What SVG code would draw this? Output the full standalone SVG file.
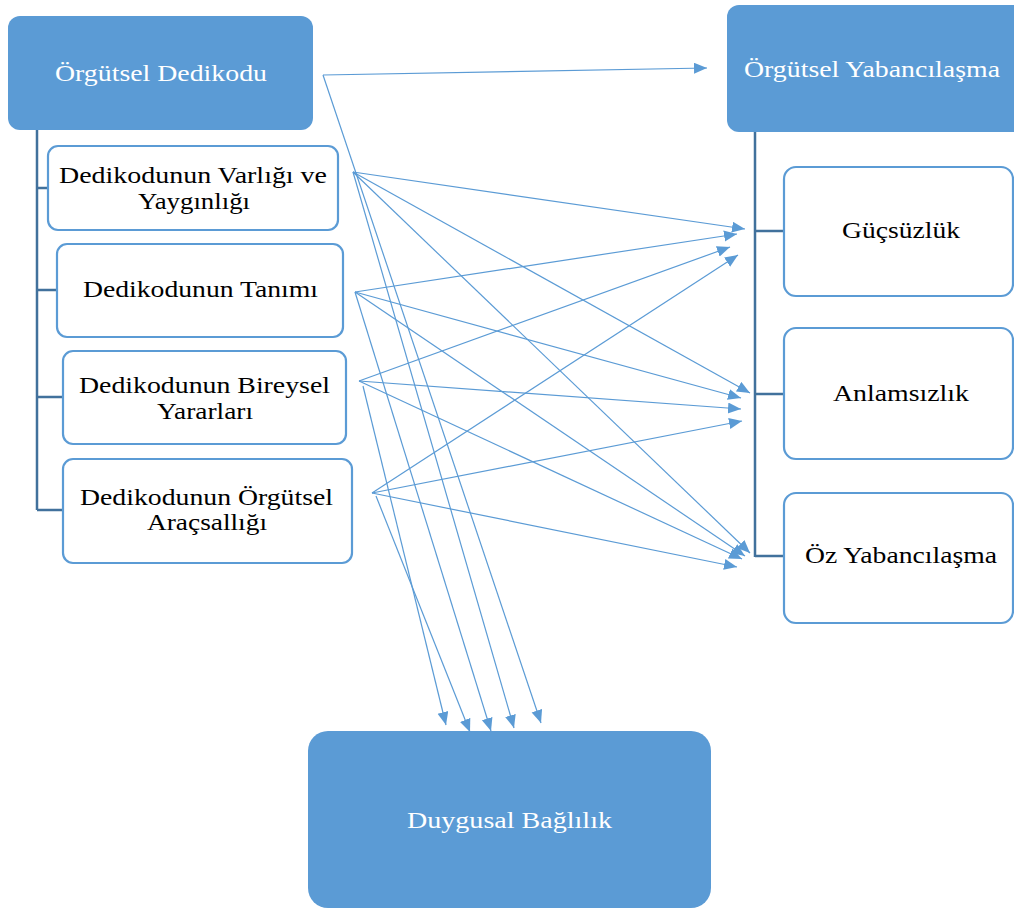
<svg xmlns="http://www.w3.org/2000/svg" width="1014" height="910" viewBox="0 0 1014 910">
<style>
.big{fill:#5B9BD5;stroke:none}
.child{fill:#FFFFFF;stroke:#5B9BD5;stroke-width:2.2}
.trunk{fill:none;stroke:#41719C;stroke-width:2.5}
.conn{fill:none;stroke:#5B9BD5;stroke-width:1.2}
.wt{font-family:"Liberation Serif","Times New Roman",serif;font-size:23px;fill:#FFFFFF;text-anchor:middle}
.bt{font-family:"Liberation Serif","Times New Roman",serif;font-size:23px;fill:#000000;text-anchor:middle}
</style>
<defs>
<marker id="ah" markerUnits="userSpaceOnUse" markerWidth="16" markerHeight="14" refX="13" refY="5.5" orient="auto">
<path d="M0,0 L13,5.5 L0,11 Z" fill="#5B9BD5"/>
</marker>
</defs>
<rect width="1014" height="910" fill="#FFFFFF"/>

<g id="trunks">
<path class="trunk" d="M37,130 V510 M37,188 H48 M37,290 H57 M37,397 H63 M37,510 H63"/>
<path class="trunk" d="M755,131 V557 M755,231 H784 M755,394 H784 M755,556 H784"/>
</g>

<g id="node-orgutsel-dedikodu">
<rect class="big" x="8" y="16" width="305" height="114" rx="12"/>
<text class="wt" x="161" y="81" textLength="212" lengthAdjust="spacingAndGlyphs">Örgütsel Dedikodu</text>
</g>
<g id="node-orgutsel-yabancilasma">
<rect class="big" x="727" y="5" width="300" height="127" rx="12"/>
<text class="wt" x="872" y="77" textLength="256" lengthAdjust="spacingAndGlyphs">Örgütsel Yabancılaşma</text>
</g>
<g id="node-duygusal-baglilik">
<rect class="big" x="308" y="731" width="403" height="177" rx="20"/>
<text class="wt" x="509.5" y="828" textLength="205" lengthAdjust="spacingAndGlyphs">Duygusal Bağlılık</text>
</g>

<g id="node-varligi">
<rect class="child" x="48" y="146" width="290" height="84" rx="10"/>
<text class="bt" x="193" y="183" textLength="268" lengthAdjust="spacingAndGlyphs">Dedikodunun Varlığı ve</text>
<text class="bt" x="194" y="209" textLength="112" lengthAdjust="spacingAndGlyphs">Yaygınlığı</text>
</g>
<g id="node-tanimi">
<rect class="child" x="57" y="244" width="286" height="93" rx="10"/>
<text class="bt" x="200.5" y="297" textLength="235" lengthAdjust="spacingAndGlyphs">Dedikodunun Tanımı</text>
</g>
<g id="node-bireysel">
<rect class="child" x="63" y="351" width="283" height="93" rx="10"/>
<text class="bt" x="204.5" y="393" textLength="251" lengthAdjust="spacingAndGlyphs">Dedikodunun Bireysel</text>
<text class="bt" x="205" y="419" textLength="96" lengthAdjust="spacingAndGlyphs">Yararları</text>
</g>
<g id="node-aracsalligi">
<rect class="child" x="63" y="459" width="289" height="104" rx="10"/>
<text class="bt" x="206.5" y="505" textLength="253" lengthAdjust="spacingAndGlyphs">Dedikodunun Örgütsel</text>
<text class="bt" x="207" y="530" textLength="120" lengthAdjust="spacingAndGlyphs">Araçsallığı</text>
</g>

<g id="node-gucsuzluk">
<rect class="child" x="784" y="167" width="229" height="129" rx="12"/>
<text class="bt" x="901" y="238" textLength="118" lengthAdjust="spacingAndGlyphs">Güçsüzlük</text>
</g>
<g id="node-anlamsizlik">
<rect class="child" x="784" y="328" width="229" height="131" rx="12"/>
<text class="bt" x="901" y="401" textLength="136" lengthAdjust="spacingAndGlyphs">Anlamsızlık</text>
</g>
<g id="node-oz-yabancilasma">
<rect class="child" x="784" y="493" width="229" height="130" rx="12"/>
<text class="bt" x="901" y="563" textLength="192" lengthAdjust="spacingAndGlyphs">Öz Yabancılaşma</text>
</g>

<g id="connectors">
<path class="conn" marker-end="url(#ah)" d="M323,75 L707,68"/>
<path class="conn" marker-end="url(#ah)" d="M323,75 L541,723"/>
<path class="conn" marker-end="url(#ah)" d="M353,172 L745,229"/>
<path class="conn" marker-end="url(#ah)" d="M353,172 L750,393"/>
<path class="conn" marker-end="url(#ah)" d="M353,172 L750,553"/>
<path class="conn" marker-end="url(#ah)" d="M353,172 L514,728"/>
<path class="conn" marker-end="url(#ah)" d="M355,292 L737,234"/>
<path class="conn" marker-end="url(#ah)" d="M355,292 L741,398"/>
<path class="conn" marker-end="url(#ah)" d="M355,292 L745,556"/>
<path class="conn" marker-end="url(#ah)" d="M355,292 L491,731"/>
<path class="conn" marker-end="url(#ah)" d="M359,381 L730,247"/>
<path class="conn" marker-end="url(#ah)" d="M359,381 L741,409"/>
<path class="conn" marker-end="url(#ah)" d="M359,381 L742,559"/>
<path class="conn" marker-end="url(#ah)" d="M363,386 L446,725"/>
<path class="conn" marker-end="url(#ah)" d="M372,493 L738,255"/>
<path class="conn" marker-end="url(#ah)" d="M372,493 L742,421"/>
<path class="conn" marker-end="url(#ah)" d="M372,493 L737,567"/>
<path class="conn" marker-end="url(#ah)" d="M376,496 L470,732"/>
</g>
</svg>
